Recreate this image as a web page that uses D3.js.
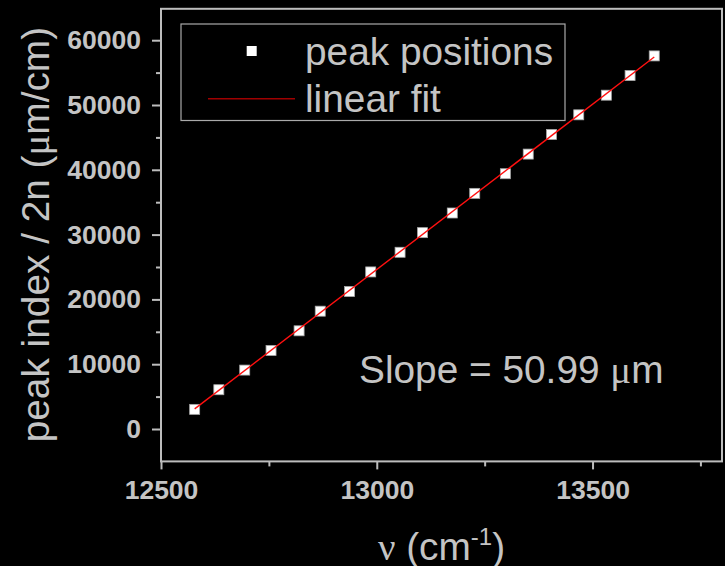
<!DOCTYPE html>
<html>
<head>
<meta charset="utf-8">
<script src="https://cdn.jsdelivr.net/npm/d3@7"></script>
<style>
  html, body { margin: 0; padding: 0; background: #000; }
  svg { display: block; }
</style>
</head>
<body>
<svg id="chart" width="725" height="566"></svg>
<script>
// Peak positions: wavenumber (cm^-1) vs. peak index / 2n (um/cm)
const wavenumbers = [12578, 12634, 12694, 12755, 12820, 12869, 12937, 12986, 13054, 13106,
                     13175, 13227, 13298, 13351, 13405, 13468, 13532, 13587, 13643];
const peakValues  = [3030, 6061, 9091, 12121, 15152, 18182, 21212, 24242, 27273, 30303,
                     33333, 36364, 39394, 42424, 45455, 48485, 51515, 54545, 57576];
const fitSlope = 50.99;

const xMajorTicks = [12500, 13000, 13500];
const xMinorTicks = [12750, 13250, 13750];
const yMajorTicks = [0, 10000, 20000, 30000, 40000, 50000, 60000];
const yMinorTicks = [5000, 15000, 25000, 35000, 45000, 55000];

const legendLabels = ["peak positions", "linear fit"];

const fg = "#c4c4c4";
const frameColor = "#bdbdbd";
const sans = "'Liberation Sans', Arial, Helvetica, sans-serif";
const serif = "'Liberation Serif', 'Times New Roman', serif";
const bigFont = "38.8px";

const svg = d3.select("#chart");
const plotLeft = 161, plotRight = 722, plotTop = 7.8, plotBottom = 461.4;

const x = d3.scaleLinear().domain([12500, 13800]).range([plotLeft, plotRight]);
const y = d3.scaleLinear().domain([-5000, 65000]).range([plotBottom, plotTop]);

// frame
svg.append("rect")
  .attr("x", plotLeft).attr("y", plotTop + 1)
  .attr("width", plotRight - plotLeft).attr("height", plotBottom - plotTop - 1)
  .attr("fill", "none").attr("stroke", frameColor).attr("stroke-width", 2);

function styleAxis(g) {
  g.select(".domain").remove();
  g.selectAll(".tick line").attr("stroke", frameColor).attr("stroke-width", 2);
  g.selectAll(".tick text")
    .attr("fill", fg)
    .style("font-family", sans)
    .style("font-weight", "bold")
    .style("font-size", "26.5px");
}

// y axis
svg.append("g").attr("transform", `translate(${plotLeft},0)`)
  .call(d3.axisLeft(y).tickValues(yMajorTicks).tickSize(9).tickPadding(11).tickFormat(d3.format("d")))
  .call(styleAxis);
svg.append("g").attr("transform", `translate(${plotLeft},0)`)
  .call(d3.axisLeft(y).tickValues(yMinorTicks).tickSize(5).tickFormat(""))
  .call(styleAxis);

// x axis
svg.append("g").attr("transform", `translate(0,${plotBottom})`)
  .call(d3.axisBottom(x).tickValues(xMajorTicks).tickSize(8).tickFormat(d3.format("d")))
  .call(styleAxis)
  .call(g => g.selectAll(".tick text").attr("y", 38).attr("dy", 0));
svg.append("g").attr("transform", `translate(0,${plotBottom})`)
  .call(d3.axisBottom(x).tickValues(xMinorTicks).tickSize(5).tickFormat(""))
  .call(styleAxis);

// data markers
const pts = wavenumbers.map((v, i) => ({ x: v, y: peakValues[i] }));
svg.append("g").selectAll("rect").data(pts).join("rect")
  .attr("x", d => x(d.x) - 5).attr("y", d => y(d.y) - 5)
  .attr("width", 10).attr("height", 10)
  .attr("fill", "#fff").attr("stroke", "#a8a8a8").attr("stroke-width", 0.8);

// linear fit with the stated slope, passing through the data centroid
const mx = d3.mean(wavenumbers), my = d3.mean(peakValues);
const intercept = my - fitSlope * mx;
const xExt = d3.extent(wavenumbers);
svg.append("path")
  .datum(xExt.map(v => [v, fitSlope * v + intercept]))
  .attr("d", d3.line().x(d => x(d[0])).y(d => y(d[1])))
  .attr("fill", "none").attr("stroke", "#ff1010").attr("stroke-width", 1.4);

// legend
const lg = svg.append("g");
lg.append("rect").attr("x", 181).attr("y", 24).attr("width", 384).attr("height", 96.5)
  .attr("fill", "#000").attr("stroke", "#aaa").attr("stroke-width", 1.2);
lg.append("rect").attr("x", 246.7).attr("y", 46).attr("width", 10).attr("height", 10)
  .attr("fill", "#fff");
lg.append("line").attr("x1", 208).attr("x2", 295).attr("y1", 98.7).attr("y2", 98.7)
  .attr("stroke", "#a00000").attr("stroke-width", 1.6);
lg.selectAll("text").data(legendLabels).join("text")
  .attr("x", 305).attr("y", (d, i) => i === 0 ? 65 : 112)
  .attr("fill", fg)
  .style("font-family", sans).style("font-size", bigFont)
  .text(d => d);

// slope annotation
const slopeText = svg.append("text").attr("x", 359).attr("y", 382.7)
  .attr("fill", fg).style("font-family", sans).style("font-size", bigFont);
slopeText.append("tspan").text(`Slope = ${fitSlope.toFixed(2)} `);
slopeText.append("tspan").style("font-family", serif).text("\u03bc");
slopeText.append("tspan").text("m");

// x title
const xt = svg.append("text").attr("x", (plotLeft + plotRight) / 2).attr("y", 559.5)
  .attr("text-anchor", "middle").attr("fill", fg)
  .style("font-family", sans).style("font-size", bigFont);
xt.append("tspan").style("font-family", serif).text("\u03bd");
xt.append("tspan").text(" (cm");
xt.append("tspan").attr("dy", -15).style("font-size", "24px").text("-1");
xt.append("tspan").attr("dy", 15).text(")");

// y title
const yt = svg.append("text")
  .attr("transform", `translate(49,${(plotTop + plotBottom) / 2}) rotate(-90)`)
  .attr("text-anchor", "middle").attr("fill", fg)
  .style("font-family", sans).style("font-size", bigFont);
yt.append("tspan").text("peak index / 2n (");
yt.append("tspan").style("font-family", serif).text("\u03bc");
yt.append("tspan").text("m/cm)");
</script>
</body>
</html>
